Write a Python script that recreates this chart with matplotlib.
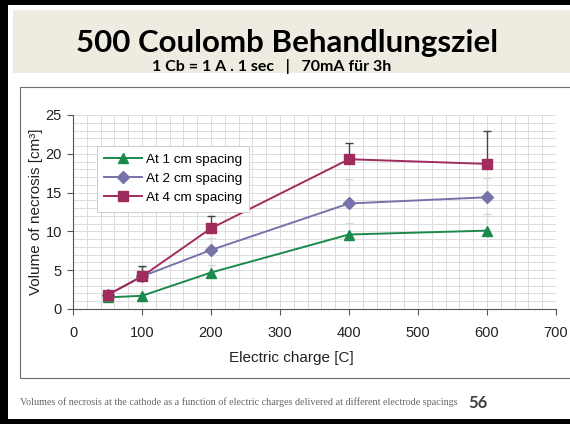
import numpy as np
import matplotlib.pyplot as plt
from matplotlib.patches import Rectangle

# data
charge = [50, 100, 200, 400, 600]
vol_1cm = [1.5, 1.7, 4.7, 9.6, 10.1]
vol_2cm = [1.8, 4.2, 7.6, 13.6, 14.4]
vol_4cm = [1.8, 4.2, 10.4, 19.3, 18.7]
err_1cm = [0.3, 0.3, 1.0, 1.5, 2.2]
err_2cm = [0.3, 1.2, 1.5, 3.1, 2.5]
err_4cm = [0.3, 1.3, 1.6, 2.1, 4.3]

W, H = 570, 424
fig = plt.figure(figsize=(W / 100, H / 100), dpi=100)

def box(x0, y0, x1, y1, **kw):
    # pixel box (top-left origin) -> figure coords
    fig.patches.append(Rectangle((x0 / W, 1 - y1 / H), (x1 - x0) / W, (y1 - y0) / H,
                                 transform=fig.transFigure, **kw))

# slide frame, title band and chart box
box(0, 0, W, H, facecolor='black', edgecolor='none', zorder=-3)
box(8, 5, W + 5, 419, facecolor='white', edgecolor='none', zorder=-3)
box(13, 10, W + 5, 73, facecolor='#eeece1', edgecolor='none', zorder=-3)
box(20, 87, W + 5, 378, facecolor='white', edgecolor='#6e6e6e', linewidth=0.8, zorder=-3)

fig.text(287 / W, 1 - 43 / H, '500 Coulomb Behandlungsziel', ha='center', va='center',
         fontsize=22.5, fontweight='bold', family='Lato', color='black')
fig.text(272 / W, 1 - 67 / H, '1 Cb = 1 A . 1 sec   |   70mA für 3h', ha='center', va='center',
         fontsize=11.5, fontweight='bold', family='Lato', color='black')

ax = fig.add_axes([73 / W, 1 - 309 / H, (556 - 73) / W, (309 - 115) / H])
ax.set_facecolor('none')
ax.set_zorder(2)

ax.errorbar(charge, vol_1cm, yerr=[[0] * 5, err_1cm], fmt='none', ecolor='#d8d8d8',
            elinewidth=1, capsize=3, zorder=2)
ax.errorbar(charge, vol_2cm, yerr=[[0] * 5, err_2cm], fmt='none', ecolor='#d8d8d8',
            elinewidth=1, capsize=3, zorder=2)
ax.errorbar(charge, vol_4cm, yerr=[[0] * 5, err_4cm], fmt='none', ecolor='#444444',
            elinewidth=1, capsize=3, zorder=2)

ax.plot(charge, vol_1cm, color='#1b8a4c', marker='^', markersize=7.5, linewidth=1.4,
        label='At 1 cm spacing', zorder=3)
ax.plot(charge, vol_2cm, color='#7673ab', marker='D', markersize=6, linewidth=1.4,
        label='At 2 cm spacing', zorder=3)
ax.plot(charge, vol_4cm, color='#a02c5e', marker='s', markersize=7.5, linewidth=1.4,
        label='At 4 cm spacing', zorder=3)

ax.set_xlim(0, 700)
ax.set_ylim(0, 25)
ax.set_xticks(np.arange(0, 701, 100))
ax.set_yticks(np.arange(0, 26, 5))
ax.set_xticks(np.arange(0, 701, 20), minor=True)
ax.set_yticks(np.arange(0, 26, 1), minor=True)
ax.grid(True, which='both', color='#dcdcdc', linewidth=0.7, zorder=0)
ax.set_axisbelow(True)
ax.tick_params(which='minor', length=0)
ax.tick_params(which='major', length=4, color='#555555', labelsize=10.5)
ax.tick_params(axis='x', pad=8)
ax.tick_params(axis='y', pad=4)
for lab in ax.get_xticklabels() + ax.get_yticklabels():
    lab.set_family('Liberation Sans')
    lab.set_color('#222222')
ax.spines['top'].set_visible(False)
ax.spines['right'].set_visible(False)
ax.spines['left'].set_color('#555555')
ax.spines['bottom'].set_color('#555555')
ax.set_xlabel('Electric charge [C]', fontsize=11, family='Liberation Sans', color='#222222')
ax.set_ylabel('Volume of necrosis [cm³]', fontsize=11, family='Liberation Sans', color='#222222')
ax.xaxis.set_label_coords((291 - 73) / 483, (309 - 358) / 194)
ax.yaxis.set_label_coords((36 - 73) / 483, 0.5)
ax.xaxis.label.set_va('center')
ax.yaxis.label.set_va('center')

leg = ax.legend(loc='upper left', bbox_to_anchor=(0.035, 0.875), frameon=True, fancybox=False,
                edgecolor='#cccccc', framealpha=1, prop={'family': 'Liberation Sans', 'size': 9.7},
                handlelength=2.8, labelspacing=0.5, borderpad=0.55, handletextpad=0.3)
leg.get_frame().set_linewidth(0.7)

fig.text(20 / W, 1 - 402 / H,
         'Volumes of necrosis at the cathode as a function of electric charges delivered at different electrode spacings',
         ha='left', va='center', fontsize=7.3, family='Liberation Serif', color='#666666')
fig.text(468 / W, 1 - 403 / H, '56', ha='left', va='center', fontsize=12,
         fontweight='bold', family='Lato', color='#404040')

fig.savefig('out.png', dpi=100)
